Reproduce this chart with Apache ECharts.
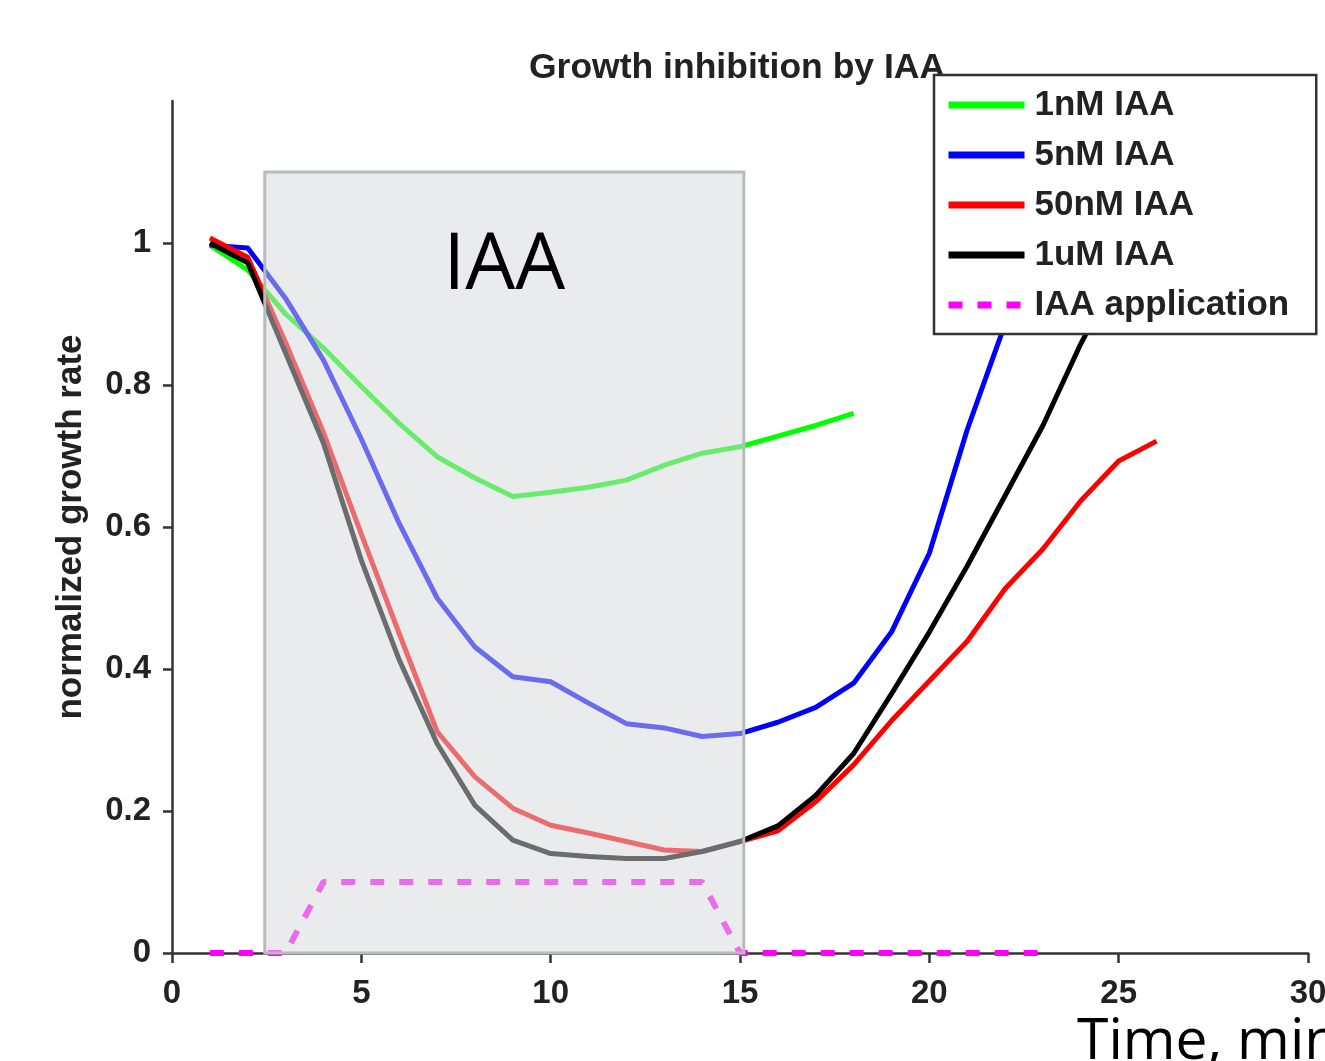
<!DOCTYPE html>
<html>
<head>
<meta charset="utf-8">
<script src="https://cdn.jsdelivr.net/npm/echarts@6/dist/echarts.min.js"></script>
<style>
html,body{margin:0;padding:0;background:#fff;}
#chart{width:1325px;height:1061px;}
</style>
</head>
<body>
<div id="chart"></div>
<script>
// ---- data ----
var chartTitle = 'Growth inhibition by IAA';
var xAxisTicks = [0, 5, 10, 15, 20, 25, 30];
var yAxisTicks = [0, 0.2, 0.4, 0.6, 0.8, 1];
var seriesNames = ['1nM IAA', '5nM IAA', '50nM IAA', '1uM IAA', 'IAA application'];

var timeGreen = [1,2,3,4,5,6,7,8,9,10,11,12,13,14,15,16,17,18];
var green1nM = [0.997,0.962,0.900,0.852,0.798,0.746,0.699,0.669,0.643,0.649,0.656,0.666,0.687,0.704,0.713,0.728,0.743,0.760];

var timeBlue = [1,2,3,4,5,6,7,8,9,10,11,12,13,14,15,16,17,18,19,20,21,22,23];
var blue5nM = [0.997,0.993,0.922,0.835,0.724,0.605,0.500,0.431,0.389,0.382,0.352,0.323,0.317,0.305,0.309,0.325,0.346,0.380,0.452,0.563,0.737,0.886,1.000];

var timeRed = [1,2,3,4,5,6,7,8,9,10,11,12,13,14,15,16,17,18,19,20,21,22,23,24,25,26];
var red50nM = [1.007,0.980,0.860,0.733,0.590,0.450,0.312,0.248,0.204,0.180,0.169,0.157,0.145,0.143,0.157,0.172,0.213,0.265,0.327,0.383,0.439,0.513,0.569,0.637,0.693,0.721];

var timeBlack = [1,2,3,4,5,6,7,8,9,10,11,12,13,14,15,16,17,18,19,20,21,22,23,24,25,26];
var black1uM = [1.000,0.972,0.845,0.718,0.553,0.413,0.295,0.208,0.159,0.140,0.136,0.133,0.133,0.143,0.157,0.179,0.222,0.281,0.365,0.452,0.545,0.644,0.743,0.858,0.960,1.050];

var timeApp = [1,2,3,4,5,6,7,8,9,10,11,12,13,14,15,16,17,18,19,20,21,22,23];
var iaaApplication = [0,0,0,0.1,0.1,0.1,0.1,0.1,0.1,0.1,0.1,0.1,0.1,0.1,0,0,0,0,0,0,0,0,0];

var iaaWindow = [2.45, 15.1];   // shaded IAA period (x)
var iaaWindowTop = 1.1;         // shaded IAA period (y top)
var iaaLabel = 'IAA';
var xAxisNote = 'Time, min';
var yAxisName = 'normalized growth rate';

function pairs(xs, ys){ return xs.map(function(x,i){ return [x, ys[i]]; }); }

var chart = echarts.init(document.getElementById('chart'), null, {renderer:'canvas'});
var boldFont = 'Liberation Sans';
var txt = '#222';

function lineSeries(name, xs, ys, color, extra){
  var s = {
    name: name, type: 'line', data: pairs(xs, ys),
    symbol: 'none', z: 2, animation: false,
    lineStyle: {color: color, width: 5, cap: 'butt', join: 'round'},
    itemStyle: {color: color}
  };
  if (extra) Object.keys(extra).forEach(function(k){ s[k] = extra[k]; });
  return s;
}

var option = {
  animation: false,
  backgroundColor: '#fff',
  title: {
    text: chartTitle, left: 524, top: 45, z: 1,
    textStyle: {fontFamily: boldFont, fontWeight: 'bold', fontSize: 35.5, color: txt}
  },
  legend: {
    data: seriesNames,
    orient: 'vertical', left: 934, top: 75, z: 10,
    padding: [10, 27, 9, 11],
    itemWidth: 76, itemHeight: 14, itemGap: 10,
    backgroundColor: '#fff', borderColor: '#333', borderWidth: 2.5, borderRadius: 0,
    lineStyle: {width: 7},
    itemStyle: {opacity: 0},
    textStyle: {fontFamily: boldFont, fontWeight: 'bold', fontSize: 35, lineHeight: 40, color: txt, padding: [0,0,0,5]}
  },
  grid: {left: 172, right: 17, top: 101, bottom: 108, containLabel: false, outerBoundsMode: 'none'},
  xAxis: {
    type: 'value', min: 0, max: 30, interval: 5,
    axisLine: {show: true, onZero: false, lineStyle: {color: '#333', width: 2.5}},
    axisTick: {show: true, length: 10, inside: false, lineStyle: {color: '#333', width: 2.5}},
    axisLabel: {margin: 24, fontFamily: boldFont, fontWeight: 'bold', fontSize: 33, color: txt,
      showMaxLabel: true, showMinLabel: true, customValues: xAxisTicks},
    splitLine: {show: false}
  },
  yAxis: {
    type: 'value', min: 0, max: 1.2, interval: 0.2,
    name: yAxisName, nameLocation: 'middle', nameGap: 83,
    nameTextStyle: {fontFamily: boldFont, fontWeight: 'bold', fontSize: 35, color: txt},
    axisLine: {show: true, lineStyle: {color: '#333', width: 2.5}},
    axisTick: {show: true, length: 9, inside: false, customValues: yAxisTicks, lineStyle: {color: '#333', width: 2.5}},
    axisLabel: {margin: 21, fontFamily: boldFont, fontWeight: 'bold', fontSize: 33, color: txt, customValues: yAxisTicks},
    splitLine: {show: false}
  },
  graphic: [{
    type: 'text', left: 1077, top: 1014, z: 10,
    style: {text: xAxisNote, fontFamily: 'Open Sans', fontSize: 57, fill: '#000'}
  }],
  series: [
    lineSeries(seriesNames[0], timeGreen, green1nM, '#00ff00'),
    lineSeries(seriesNames[1], timeBlue, blue5nM, '#0000ff'),
    lineSeries(seriesNames[2], timeRed, red50nM, '#ff0000'),
    lineSeries(seriesNames[3], timeBlack, black1uM, '#000000'),
    lineSeries(seriesNames[4], timeApp, iaaApplication, '#ff00ff', {
      lineStyle: {color: '#ff00ff', width: 6, type: [14, 15], cap: 'butt'}
    }),
    {
      name: 'IAA window', type: 'line', data: [], z: 5, silent: true, animation: false,
      markArea: {
        z: 5, silent: true, animation: false,
        itemStyle: {color: 'rgba(213,215,219,0.5)', borderColor: '#b8babd', borderWidth: 3},
        label: {show: true, position: 'insideTop', distance: 56, formatter: iaaLabel,
          fontFamily: 'Open Sans', fontSize: 79, color: '#000'},
        data: [[{xAxis: iaaWindow[0], yAxis: 0}, {xAxis: iaaWindow[1], yAxis: iaaWindowTop}]]
      }
    }
  ]
};
chart.setOption(option);
</script>
</body>
</html>
